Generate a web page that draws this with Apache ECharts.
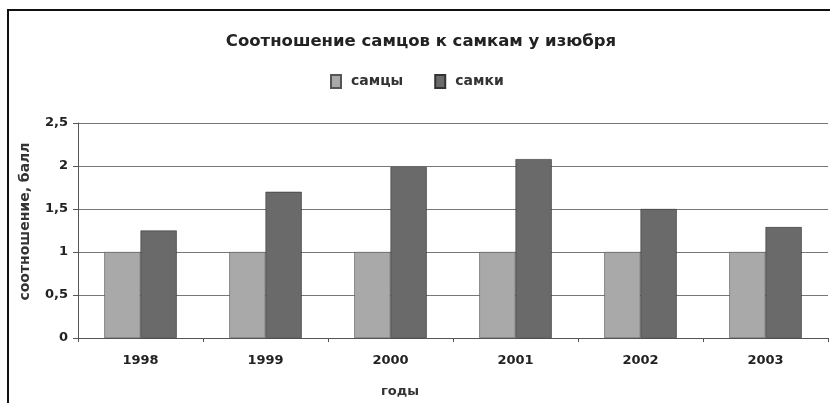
<!DOCTYPE html>
<html>
<head>
<meta charset="utf-8">
<script src="https://cdn.jsdelivr.net/npm/echarts@6/dist/echarts.min.js"></script>
<style>
  html, body { margin: 0; padding: 0; background: #fff; }
  #chart { width: 830px; height: 403px; }
</style>
</head>
<body>
<div id="chart"></div>
<script>
// Years on the category axis
const years = ['1998', '1999', '2000', '2001', '2002', '2003'];
// Ratio values per year
const males = [1, 1, 1, 1, 1, 1];
const females = [1.25, 1.70, 1.99, 2.08, 1.50, 1.29];
// Value axis ticks
const yTicks = [0, 0.5, 1, 1.5, 2, 2.5];

const FONT = '"DejaVu Sans", sans-serif';
const chart = echarts.init(document.getElementById('chart'), null, { renderer: 'canvas' });

chart.setOption({
  backgroundColor: '#ffffff',
  animation: false,
  title: {
    text: 'Соотношение самцов к самкам у изюбря',
    left: 416,
    textAlign: 'center',
    top: 28,
    textStyle: { fontFamily: FONT, fontSize: 16.5, fontWeight: 'bold', color: '#222' }
  },
  legend: {
    left: 330,
    top: 74,
    padding: 0,
    itemWidth: 10,
    itemHeight: 13,
    itemGap: 31,
    icon: 'rect',
    textStyle: { fontFamily: FONT, fontSize: 14, fontWeight: 'bold', color: '#333', padding: [0, 0, 0, 5] },
    data: ['самцы', 'самки']
  },
  graphic: [{
    type: 'rect',
    shape: { x: 8, y: 10, width: 840, height: 420 },
    style: { fill: 'none', stroke: '#111', lineWidth: 2 },
    silent: true
  }],
  grid: { left: 78, right: 2, top: 123, bottom: 64 },
  xAxis: {
    type: 'category',
    data: years,
    name: 'годы',
    nameLocation: 'middle',
    nameGap: 47,
    nameTextStyle: { fontFamily: FONT, fontSize: 13, fontWeight: 'bold', color: '#333', padding: [0, 106, 0, 0] },
    axisLine: { lineStyle: { color: '#555', width: 1 } },
    axisTick: { show: true, length: 4, lineStyle: { color: '#555' } },
    axisLabel: { fontFamily: FONT, fontSize: 13, fontWeight: 'bold', color: '#222', margin: 16 }
  },
  yAxis: {
    type: 'value',
    min: yTicks[0],
    max: yTicks[yTicks.length - 1],
    interval: 0.5,
    name: 'соотношение, балл',
    nameLocation: 'middle',
    nameGap: 46,
    nameRotate: 90,
    nameTextStyle: { fontFamily: FONT, fontSize: 14, fontWeight: 'bold', color: '#333', padding: [0, 0, 0, 18] },
    axisLine: { show: true, lineStyle: { color: '#555', width: 1 } },
    axisTick: { show: true, length: 5, lineStyle: { color: '#555' } },
    axisLabel: {
      fontFamily: FONT, fontSize: 13, fontWeight: 'bold', color: '#222', margin: 10,
      formatter: v => String(v).replace('.', ',')
    },
    splitLine: { show: true, lineStyle: { color: '#777', width: 1 } }
  },
  series: [
    {
      name: 'самцы',
      type: 'bar',
      data: males,
      barGap: '0%',
      barCategoryGap: '42%',
      itemStyle: { color: '#a9a9a9', borderColor: '#555', borderWidth: 0.6 }
    },
    {
      name: 'самки',
      type: 'bar',
      data: females,
      itemStyle: { color: '#6a6a6a', borderColor: '#333', borderWidth: 0.6 }
    }
  ]
});
</script>
</body>
</html>
